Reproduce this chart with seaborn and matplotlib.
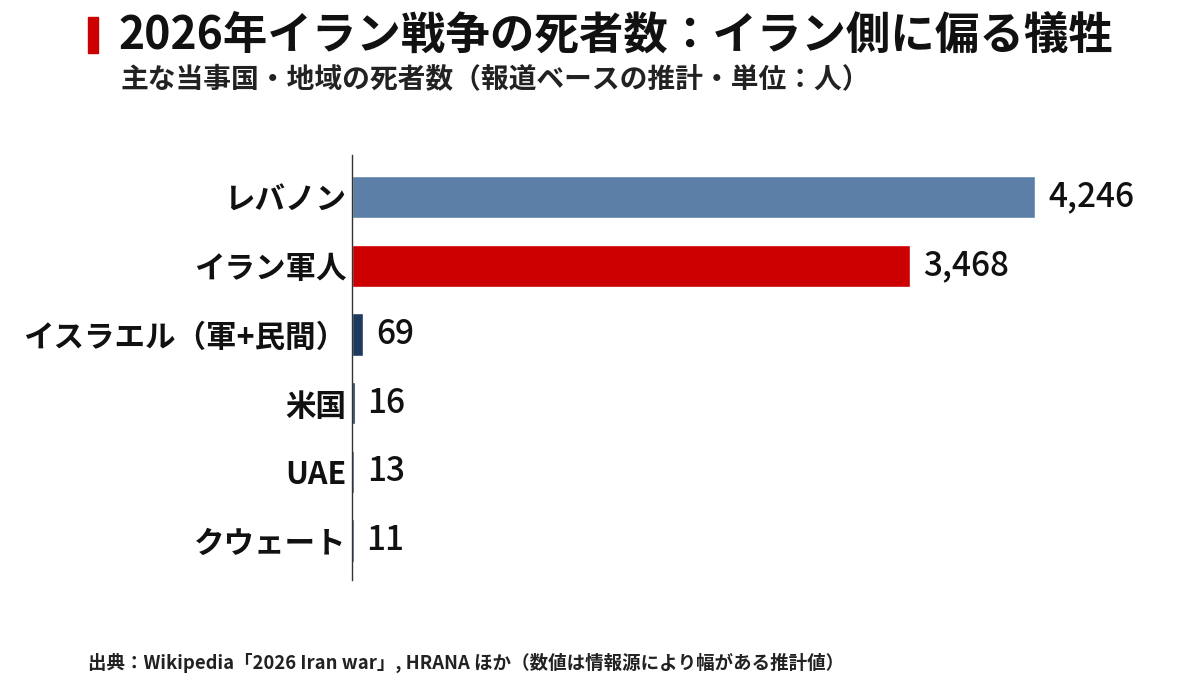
import matplotlib
matplotlib.use('Agg')
import matplotlib.pyplot as plt
import matplotlib.patches as mpatches
import seaborn as sns
import pandas as pd

categories = ['レバノン', 'イラン軍人', 'イスラエル（軍+民間）', '米国', 'UAE', 'クウェート']
deaths = [4246, 3468, 69, 16, 13, 11]
colors = ['#5b7fa6', '#cc0000', '#1f3a5f', '#1f3a5f', '#1f3a5f', '#1f3a5f']

sns.set_style('white')
plt.rcParams['font.family'] = ['Noto Sans CJK JP', 'DejaVu Sans']

df = pd.DataFrame({'cat': categories, 'val': deaths})

fig = plt.figure(figsize=(12, 6.9), dpi=100)
ax = fig.add_axes([0.2933, 0.159, 0.665, 0.616])
sns.barplot(data=df, y='cat', x='val', hue='cat', palette=colors, legend=False,
            width=0.62, saturation=1, ax=ax, orient='h')
ax.set_xlim(0, 4960)
ax.set_ylim(5.58, -0.61)
for s in ['top', 'right', 'bottom']:
    ax.spines[s].set_visible(False)
ax.spines['left'].set_color('#333333')
ax.spines['left'].set_linewidth(1)
ax.set_xticks([])
ax.set_xlabel('')
ax.set_ylabel('')
ax.tick_params(axis='y', length=0, pad=4)
for lab in ax.get_yticklabels():
    lab.set_fontsize(22)
    lab.set_fontweight('bold')
    lab.set_color('#111111')
for i, v in enumerate(deaths):
    ax.text(v + 80, i, f'{v:,}', va='center', ha='left', fontsize=24,
            fontweight='medium', color='#111111')

fig.patches.append(mpatches.Rectangle((88 / 1200, 1 - 53 / 690), 10 / 1200, 36 / 690,
                                      transform=fig.transFigure, color='#cc0000'))
fig.text(118 / 1200, 1 - 36 / 690, '2026年イラン戦争の死者数：イラン側に偏る犠牲',
         fontsize=32, fontweight='bold', va='center', color='#111111')
fig.text(120 / 1200, 1 - 80 / 690, '主な当事国・地域の死者数（報道ベースの推計・単位：人）',
         fontsize=20, fontweight='bold', va='center', color='#222222')
fig.text(88 / 1200, 1 - 663 / 690,
         '出典：Wikipedia「2026 Iran war」, HRANA ほか（数値は情報源により幅がある推計値）',
         fontsize=13.3, fontweight='bold', va='center', color='#222222')

fig.savefig('out.png', dpi=100, facecolor='white')
